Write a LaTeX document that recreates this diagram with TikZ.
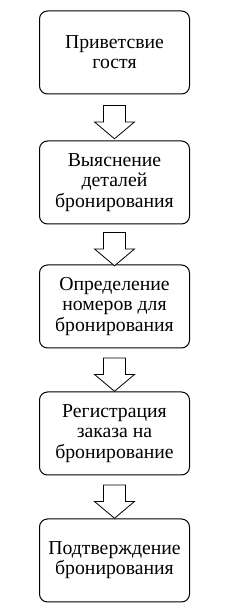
\documentclass[tikz,border=0pt]{standalone}
\usepackage{fontspec}
\setmainfont{Liberation Serif}
\usepackage{tikz}
\usetikzlibrary{positioning,shapes.arrows,calc}
\tikzset{
  stage/.style={draw=black, line width=0.75pt, rounded corners=6pt, fill=white, align=center, minimum width=112.5pt, minimum height=62.25pt, inner sep=2pt, font=\fontsize{14.8}{15.2}\selectfont},
  down/.style={draw=black, line width=0.6pt, fill=white, single arrow, rotate=-90, text width=0pt, text height=0pt, text depth=0pt, inner xsep=0pt, inner ysep=7.9pt, single arrow head extend=6.75pt, single arrow tip angle=100, minimum height=25pt}
}
\begin{document}
\begin{tikzpicture}[x=0.75pt,y=0.75pt]
    \useasboundingbox (0,0) rectangle (250,608);
    \node[stage] (greet) at (114.5,555.5) {Приветсвие\\ гостя};
    \node[stage, below=34.5pt of greet] (details) {Выяснение\\ деталей\\ бронирования};
    \node[stage, below=30pt of details] (rooms) {Определение\\ номеров для\\ бронирования};
    \node[stage, below=32.25pt of rooms] (order) {Регистрация\\ заказа на\\ бронирование};
    \node[stage, below=32.25pt of order] (confirm) {Подтверждение\\ бронирования};
    \node[down] (a1) at ($(greet.south)!0.5!(details.north)$) {};
    \node[down] (a2) at ($(details.south)!0.5!(rooms.north)$) {};
    \node[down] (a3) at ($(rooms.south)!0.5!(order.north)$) {};
    \node[down] (a4) at ($(order.south)!0.5!(confirm.north)$) {};
  \end{tikzpicture}
\end{document}
